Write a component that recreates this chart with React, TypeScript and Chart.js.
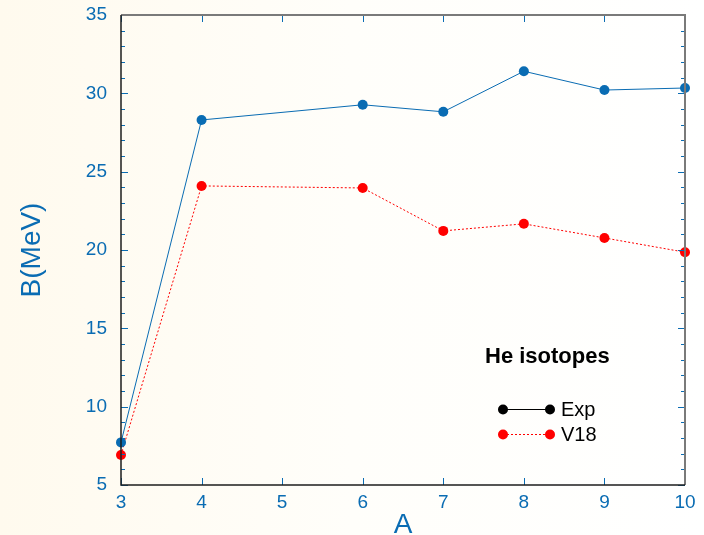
import React, { useEffect, useRef } from "react";
import { Chart, registerables } from "chart.js";

Chart.register(...registerables);

const massNumbers = [3, 4, 6, 7, 8, 9, 10];
const expValues = [7.72, 28.3, 29.27, 28.82, 31.41, 30.21, 30.34];
const v18Values = [6.92, 24.09, 23.96, 21.22, 21.67, 20.77, 19.86];
const xTicks = [3, 4, 5, 6, 7, 8, 9, 10];
const yMajorTicks = [5, 10, 15, 20, 25, 30, 35];
const yMinorTicks = [6, 7, 8, 9, 11, 12, 13, 14, 16, 17, 18, 19, 21, 22, 23, 24, 26, 27, 28, 29, 31, 32, 33, 34];
const legendTitle = "He isotopes";
const seriesNames = ["Exp", "V18"];
const xTitle = "A";
const yTitle = "B(MeV)";

const BLUE = "#0a6cb3";
const RED = "#ff0000";
const FONT = "'Liberation Sans', Arial, Helvetica, sans-serif";

const decorPlugin = {
  id: "decor",
  beforeDraw(chart: any) {
    const { ctx, width, height } = chart;
    ctx.save();
    const g = ctx.createLinearGradient(0, 0, width, 0);
    g.addColorStop(0, "#fffaee");
    g.addColorStop(0.5, "#fffefa");
    g.addColorStop(1, "#ffffff");
    ctx.fillStyle = g;
    ctx.fillRect(0, 0, width, height);
    ctx.restore();
  },
  afterDatasetsDraw(chart: any) {
    const { ctx, chartArea } = chart;
    const { left, right, top, bottom } = chartArea;
    const xs = chart.scales.x;
    const ys = chart.scales.y;
    ctx.save();
    // ticks
    ctx.strokeStyle = BLUE;
    ctx.lineWidth = 1;
    ctx.beginPath();
    for (const t of xTicks) {
      const px = Math.round(xs.getPixelForValue(t)) + 0.5;
      ctx.moveTo(px, bottom);
      ctx.lineTo(px, bottom - 7);
      ctx.moveTo(px, top);
      ctx.lineTo(px, top + 7);
    }
    for (const t of yMajorTicks) {
      const py = Math.round(ys.getPixelForValue(t)) + 0.5;
      ctx.moveTo(left, py);
      ctx.lineTo(left + 7, py);
      ctx.moveTo(right, py);
      ctx.lineTo(right - 7, py);
    }
    for (const t of yMinorTicks) {
      const py = Math.round(ys.getPixelForValue(t)) + 0.5;
      ctx.moveTo(left, py);
      ctx.lineTo(left + 4, py);
      ctx.moveTo(right, py);
      ctx.lineTo(right - 4, py);
    }
    ctx.stroke();
    // frame
    ctx.lineWidth = 2;
    ctx.strokeStyle = "#7a7a7a";
    ctx.beginPath();
    ctx.moveTo(left, top);
    ctx.lineTo(right, top);
    ctx.lineTo(right, bottom);
    ctx.stroke();
    ctx.strokeStyle = "#1e1e1e";
    ctx.lineWidth = 1.5;
    ctx.beginPath();
    ctx.moveTo(left, top);
    ctx.lineTo(left, bottom);
    ctx.lineTo(right, bottom);
    ctx.stroke();

    // axis titles
    ctx.fillStyle = BLUE;
    ctx.font = `28px ${FONT}`;
    ctx.textAlign = "center";
    ctx.textBaseline = "alphabetic";
    ctx.fillText(xTitle, (left + right) / 2, 533);
    ctx.save();
    ctx.translate(40, (top + bottom) / 2);
    ctx.rotate(-Math.PI / 2);
    ctx.fillText(yTitle, 0, 0);
    ctx.restore();

    // legend
    ctx.fillStyle = "#000";
    ctx.font = `bold 22px ${FONT}`;
    ctx.textAlign = "left";
    ctx.fillText(legendTitle, 485, 363);
    const items = [
      { name: seriesNames[0], color: "#000", dash: [] as number[], y: 409 },
      { name: seriesNames[1], color: RED, dash: [2, 2], y: 434 },
    ];
    for (const it of items) {
      ctx.strokeStyle = it.color;
      ctx.lineWidth = 1;
      ctx.setLineDash(it.dash);
      ctx.beginPath();
      ctx.moveTo(503, it.y + 0.5);
      ctx.lineTo(550, it.y + 0.5);
      ctx.stroke();
      ctx.setLineDash([]);
      ctx.fillStyle = it.color;
      for (const cx of [503, 550]) {
        ctx.beginPath();
        ctx.arc(cx, it.y + 0.5, 5, 0, Math.PI * 2);
        ctx.fill();
      }
      ctx.fillStyle = "#000";
      ctx.font = `20px ${FONT}`;
      ctx.textBaseline = "middle";
      ctx.fillText(it.name, 561, it.y + 1);
      ctx.textBaseline = "alphabetic";
    }
    ctx.restore();
  },
};

export default function App() {
  const ref = useRef<HTMLCanvasElement | null>(null);
  useEffect(() => {
    if (!ref.current) return;
    const chart = new Chart(ref.current, {
      type: "scatter",
      data: {
        datasets: [
          {
            label: seriesNames[0],
            data: massNumbers.map((a, i) => ({ x: a, y: expValues[i] })),
            showLine: true,
            borderColor: BLUE,
            backgroundColor: BLUE,
            borderWidth: 1,
            pointRadius: 5,
            pointBorderWidth: 0,
            clip: false,
          },
          {
            label: seriesNames[1],
            data: massNumbers.map((a, i) => ({ x: a, y: v18Values[i] })),
            showLine: true,
            borderColor: RED,
            backgroundColor: RED,
            borderWidth: 1,
            borderDash: [2, 2],
            pointRadius: 5,
            pointBorderWidth: 0,
            clip: false,
          },
        ],
      },
      options: {
        animation: false,
        responsive: false,
        maintainAspectRatio: false,
        layout: { padding: { left: 0, top: 15, right: 19, bottom: 0 } },
        plugins: { legend: { display: false }, tooltip: { enabled: false } },
        scales: {
          x: {
            type: "linear",
            min: 3,
            max: 10,
            afterFit: (s: any) => {
              s.height = 50;
              s.paddingLeft = 0;
              s.paddingRight = 0;
            },
            afterBuildTicks: (s: any) => {
              s.ticks = xTicks.map((v) => ({ value: v }));
            },
            grid: { display: false, drawTicks: false },
            border: { display: false },
            ticks: {
              color: BLUE,
              font: { size: 19, family: FONT },
              padding: 6,
              maxRotation: 0,
            },
          },
          y: {
            type: "linear",
            min: 5,
            max: 35,
            afterFit: (s: any) => {
              s.width = 121;
              s.paddingTop = 0;
              s.paddingBottom = 0;
            },
            afterBuildTicks: (s: any) => {
              s.ticks = yMajorTicks.map((v) => ({ value: v }));
            },
            grid: { display: false, drawTicks: false },
            border: { display: false },
            ticks: {
              color: BLUE,
              font: { size: 19, family: FONT },
              padding: 14,
            },
          },
        },
      },
      plugins: [decorPlugin],
    });
    return () => chart.destroy();
  }, []);
  return (
    <div style={{ position: "absolute", left: 0, top: 0, width: 704, height: 535 }}>
      <canvas ref={ref} width={704} height={535} style={{ display: "block" }} />
    </div>
  );
}
